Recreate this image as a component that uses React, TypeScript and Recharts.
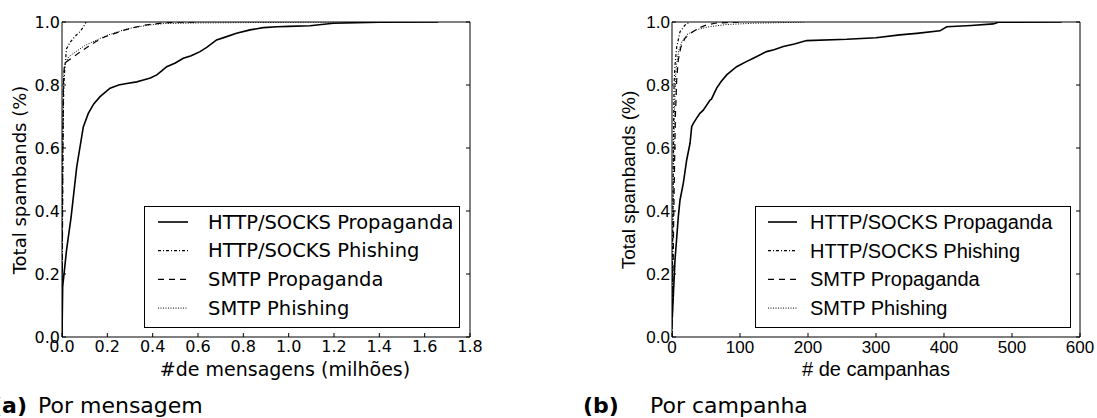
import { Legend, Line, LineChart, XAxis, YAxis } from "recharts";

// (a) por mensagem, x em milhões de mensagens
const msgHttpPropX = [0, 0.003, 0.02, 0.04, 0.065, 0.094, 0.116, 0.14, 0.168, 0.212, 0.25, 0.285, 0.33, 0.359, 0.39, 0.418, 0.44, 0.462, 0.5, 0.535, 0.57, 0.609, 0.64, 0.682, 0.72, 0.77, 0.83, 0.888, 0.95, 1.0, 1.094, 1.197, 1.3, 1.4, 1.66];
const msgHttpPropY = [0, 0.16, 0.276, 0.38, 0.54, 0.667, 0.71, 0.74, 0.763, 0.79, 0.8, 0.805, 0.81, 0.816, 0.822, 0.832, 0.845, 0.858, 0.87, 0.885, 0.893, 0.906, 0.92, 0.943, 0.952, 0.964, 0.975, 0.982, 0.985, 0.986, 0.988, 0.996, 0.998, 0.999, 1.0];
const msgHttpPhishX = [0, 0.002, 0.004, 0.006, 0.008, 0.013, 0.02, 0.035, 0.05, 0.065, 0.08, 0.095, 0.106];
const msgHttpPhishY = [0, 0.4, 0.6, 0.72, 0.8, 0.86, 0.915, 0.935, 0.948, 0.96, 0.97, 0.985, 1.0];
const msgSmtpPropX = [0, 0.002, 0.004, 0.006, 0.01, 0.02, 0.043, 0.08, 0.116, 0.15, 0.19, 0.23, 0.278, 0.32, 0.366, 0.42, 0.484, 0.6];
const msgSmtpPropY = [0, 0.3, 0.6, 0.8, 0.858, 0.874, 0.885, 0.905, 0.922, 0.938, 0.953, 0.963, 0.975, 0.983, 0.99, 0.995, 0.999, 1.0];
const msgSmtpPhishX = [0, 0.001, 0.003, 0.005, 0.008, 0.015, 0.03, 0.06, 0.1, 0.15, 0.2, 0.26, 0.3, 0.38, 0.45, 0.6, 0.8, 1.0, 1.2];
const msgSmtpPhishY = [0, 0.3, 0.6, 0.78, 0.84, 0.87, 0.89, 0.905, 0.925, 0.942, 0.958, 0.972, 0.98, 0.99, 0.995, 0.997, 0.998, 0.999, 1.0];

// (b) por campanha
const campHttpPropX = [0, 0.5, 4.4, 9.3, 11.8, 16.6, 21.6, 26.5, 29, 31.4, 36, 41, 46, 56, 58, 65.7, 72, 80.4, 95, 110, 119.6, 139, 150, 163.7, 180, 198, 257, 300, 335, 360, 394, 404, 440, 472.5, 480, 573];
const campHttpPropY = [0.06, 0.065, 0.244, 0.382, 0.435, 0.488, 0.562, 0.615, 0.668, 0.678, 0.694, 0.71, 0.72, 0.752, 0.755, 0.79, 0.81, 0.832, 0.858, 0.875, 0.885, 0.906, 0.912, 0.922, 0.93, 0.941, 0.945, 0.95, 0.959, 0.964, 0.972, 0.985, 0.989, 0.994, 0.999, 1.0];
const campHttpPhishX = [0, 1, 2, 3, 4.4, 6.9, 11.8, 19, 26];
const campHttpPhishY = [0, 0.3, 0.6, 0.8, 0.863, 0.92, 0.969, 0.99, 1.0];
const campSmtpPropX = [0, 1.5, 3, 5, 7, 9.3, 13, 19, 28, 38.7, 50, 63, 80, 102];
const campSmtpPropY = [0, 0.2, 0.45, 0.7, 0.82, 0.88, 0.92, 0.948, 0.965, 0.98, 0.99, 0.996, 0.998, 1.0];
const campSmtpPhishX = [0, 1, 2, 3.5, 5, 7, 10, 15, 22, 35, 55, 80, 120, 160, 195];
const campSmtpPhishY = [0, 0.25, 0.5, 0.7, 0.82, 0.87, 0.91, 0.94, 0.96, 0.975, 0.985, 0.992, 0.996, 0.998, 1.0];

const seriesNames = ["HTTP/SOCKS Propaganda", "HTTP/SOCKS Phishing", "SMTP Propaganda", "SMTP Phishing"];
const msgTicks = [0, 0.2, 0.4, 0.6, 0.8, 1.0, 1.2, 1.4, 1.6, 1.8];
const campTicks = [0, 100, 200, 300, 400, 500, 600];
const yTicks = [0, 0.2, 0.4, 0.6, 0.8, 1.0];

const zip = (xs: number[], ys: number[]) => xs.map((x, i) => ({ x, y: ys[i] }));

const lineStyles = [
  { width: 1.6, dash: undefined },
  { width: 1.2, dash: "3 2 1 2" },
  { width: 1.2, dash: "6 5" },
  { width: 1, dash: "1 1.5" },
];

const LegendBox = ({ font, size, sample, textX }: any) => (
  <div style={{ border: "1px solid #000", background: "#fff", width: 316, height: 122, boxSizing: "border-box" }}>
    <svg width={314} height={120} style={{ display: "block" }}>
      {seriesNames.map((name, i) => {
        const cy = 15 + i * 28.7;
        return (
          <g key={name}>
            <line x1={sample[0]} x2={sample[1]} y1={cy} y2={cy} stroke="#000" strokeWidth={lineStyles[i].width} strokeDasharray={lineStyles[i].dash} />
            <text x={textX} y={cy} dominantBaseline="central" fontFamily={font} fontSize={size} fill="#000">{name}</text>
          </g>
        );
      })}
    </svg>
  </div>
);

const Panel = ({ series, xDomain, xTicks, fmt, font, tickSize, width, marginRight, yWidth, legend }: any) => (
  <LineChart width={width} height={418} margin={{ top: 12, right: marginRight, bottom: 41, left: 10 }}>
    <XAxis type="number" dataKey="x" domain={xDomain} ticks={xTicks} tickFormatter={fmt} height={40} tickSize={-4} tickMargin={8}
      axisLine={{ stroke: "#000" }} tickLine={{ stroke: "#000" }} tick={{ fontFamily: font, fontSize: tickSize, fill: "#000" }} allowDataOverflow />
    <XAxis xAxisId="top" orientation="top" type="number" domain={xDomain} ticks={xTicks} tickFormatter={() => ""} height={10} tickSize={-4}
      axisLine={{ stroke: "#000" }} tickLine={{ stroke: "#000" }} allowDataOverflow />
    <YAxis type="number" domain={[0, 1]} ticks={yTicks} tickFormatter={(v: number) => v.toFixed(1)} width={yWidth} tickSize={-4} tickMargin={6}
      axisLine={{ stroke: "#000" }} tickLine={{ stroke: "#000" }} tick={{ fontFamily: font, fontSize: tickSize, fill: "#000" }} allowDataOverflow />
    <YAxis yAxisId="right" orientation="right" type="number" domain={[0, 1]} ticks={yTicks} tickFormatter={() => ""} width={10} tickSize={-4}
      axisLine={{ stroke: "#000" }} tickLine={{ stroke: "#000" }} allowDataOverflow />
    {series.map((d: any, i: number) => (
      <Line key={seriesNames[i]} data={d} dataKey="y" name={seriesNames[i]} type="linear" stroke="#000"
        strokeWidth={lineStyles[i].width} strokeDasharray={lineStyles[i].dash} dot={false} activeDot={false} isAnimationActive={false} />
    ))}
    <Legend layout="vertical" align="center" verticalAlign="middle" content={() => legend.box}
      wrapperStyle={{ position: "absolute", left: legend.left, top: 206, width: 316, height: 122 }} />
  </LineChart>
);

export default function App() {
  const msgSeries = [zip(msgHttpPropX, msgHttpPropY), zip(msgHttpPhishX, msgHttpPhishY), zip(msgSmtpPropX, msgSmtpPropY), zip(msgSmtpPhishX, msgSmtpPhishY)];
  const campSeries = [zip(campHttpPropX, campHttpPropY), zip(campHttpPhishX, campHttpPhishY), zip(campSmtpPropX, campSmtpPropY), zip(campSmtpPhishX, campSmtpPhishY)];
  const dv = "DejaVu Sans";
  const lib = "Liberation Sans";
  return (
    <div style={{ position: "absolute", left: 0, top: 0, width: 1097, height: 418, background: "#fff", overflow: "hidden" }}>
      <div style={{ position: "absolute", left: 0, top: 0 }}>
        <Panel series={msgSeries} xDomain={[0, 1.8]} xTicks={msgTicks} fmt={(v: number) => v.toFixed(1)} font={dv} tickSize={16}
          width={548} marginRight={68} yWidth={52}
          legend={{ left: 144, box: <LegendBox font={dv} size={19.5} sample={[13, 43]} textX={63} /> }} />
      </div>
      <div style={{ position: "absolute", left: 548, top: 0 }}>
        <Panel series={campSeries} xDomain={[0, 600]} xTicks={campTicks} fmt={(v: number) => String(v)} font={lib} tickSize={17}
          width={549} marginRight={7} yWidth={114}
          legend={{ left: 207, box: <LegendBox font={lib} size={20} sample={[12, 41]} textX={54} /> }} />
      </div>
      <svg width={1097} height={418} style={{ position: "absolute", left: 0, top: 0, pointerEvents: "none" }}>
        <text x={26} y={180} transform="rotate(-90 26 180)" textAnchor="middle" fontFamily={dv} fontSize={18} fill="#000">Total spambands (%)</text>
        <text x={285} y={376} textAnchor="middle" fontFamily={dv} fontSize={19} fill="#000">#de mensagens (milhões)</text>
        <text x={635} y={180} transform="rotate(-90 635 180)" textAnchor="middle" fontFamily={lib} fontSize={19} fill="#000">Total spambands (%)</text>
        <text x={876} y={376} textAnchor="middle" fontFamily={lib} fontSize={20} fill="#000"># de campanhas</text>
        <text x={27} y={413} textAnchor="end" fontFamily={dv} fontSize={22} fontWeight="bold" fill="#000">(a)</text>
        <text x={38} y={413} fontFamily={dv} fontSize={22} fill="#000">Por mensagem</text>
        <text x={583} y={413} fontFamily={dv} fontSize={22} fontWeight="bold" fill="#000">(b)</text>
        <text x={650} y={413} fontFamily={dv} fontSize={22} fill="#000">Por campanha</text>
      </svg>
    </div>
  );
}
